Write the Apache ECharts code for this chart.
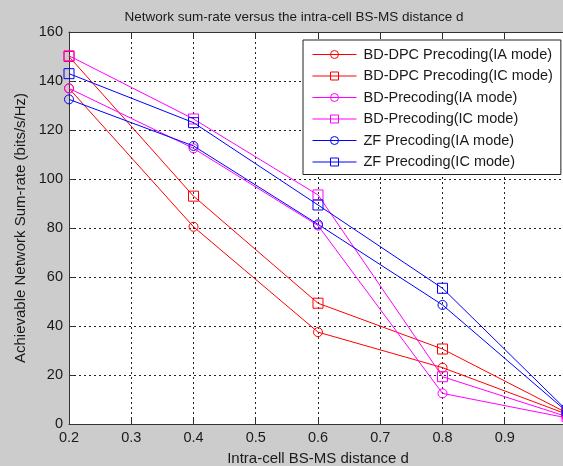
<!DOCTYPE html>
<html>
<head>
<meta charset="utf-8">
<script src="https://cdn.jsdelivr.net/npm/echarts@6/dist/echarts.min.js"></script>
<style>
  html, body { margin: 0; padding: 0; background: #cccccc; }
  #chart { width: 563px; height: 466px; }
</style>
</head>
<body>
<div id="chart"></div>
<script>
// Intra-cell BS-MS distance d
const distances = [0.2, 0.4, 0.6, 0.8, 1.0];

// Achievable network sum-rate (bits/s/Hz) per scheme
const bdDpcIA = [137, 80.5, 37.5, 23, 4];
const bdDpcIC = [150, 93, 49.3, 30.6, 4.5];
const bdIA    = [137, 112.5, 81, 12.5, 2.5];
const bdIC    = [150.3, 124.5, 93.5, 19.3, 3];
const zfIA    = [132.5, 113.5, 81.5, 48.6, 5];
const zfIC    = [143, 123, 89.4, 55.4, 5.5];

const seriesNames = [
  'BD-DPC Precoding(IA mode)',
  'BD-DPC Precoding(IC mode)',
  'BD-Precoding(IA mode)',
  'BD-Precoding(IC mode)',
  'ZF Precoding(IA mode)',
  'ZF Precoding(IC mode)'
];
const seriesValues = [bdDpcIA, bdDpcIC, bdIA, bdIC, zfIA, zfIC];
const seriesColors = ['#ff0000', '#ff0000', '#ff00ff', '#ff00ff', '#0000ff', '#0000ff'];
const seriesSymbols = ['circle', 'rect', 'circle', 'rect', 'circle', 'rect'];

const FONT = 'Liberation Sans, Arial, sans-serif';
const TEXT = '#1a1a1a';

const chart = echarts.init(document.getElementById('chart'), null, { renderer: 'canvas' });

const dotted = { show: true, lineStyle: { color: '#222', width: 1, type: [2, 3] } };

const option = {
  backgroundColor: '#cccccc',
  animation: false,
  title: {
    text: 'Network sum-rate versus the intra-cell BS-MS distance d',
    left: 289, top: 5, textAlign: 'center',
    textStyle: { fontFamily: FONT, fontSize: 13.5, fontWeight: 'normal', color: TEXT }
  },
  // the plot box runs a little past the right edge of the canvas
  grid: {
    left: 69, top: 32, width: 498, height: 392,
    outerBoundsMode: 'none', containLabel: false,
    backgroundColor: '#ffffff', show: true, borderWidth: 0
  },
  legend: {
    orient: 'vertical',
    left: 303, top: 40,
    padding: [7, 8, 5, 9],
    itemWidth: 44, itemHeight: 10, itemGap: 6.5,
    backgroundColor: '#ffffff',
    borderColor: '#222', borderWidth: 1,
    lineStyle: { width: 1 },
    itemStyle: { borderWidth: 1 },
    textStyle: { fontFamily: FONT, fontSize: 14.5, color: TEXT, padding: [0, 0, 0, 2] },
    data: seriesNames
  },
  xAxis: [{
    type: 'value', min: 0.2, max: 1.0, interval: 0.1,
    axisLine: { show: true, onZero: false, lineStyle: { color: '#333', width: 1 } },
    axisTick: { show: true, inside: true, length: 5, lineStyle: { color: '#333' } },
    axisLabel: { margin: 6, fontFamily: FONT, fontSize: 14.5, color: TEXT,
      formatter: v => (Math.abs(v - 1) < 1e-9 ? '1' : v.toFixed(1)) },
    splitLine: dotted,
    name: 'Intra-cell BS-MS distance d', nameLocation: 'middle', nameGap: 27,
    nameTextStyle: { fontFamily: FONT, fontSize: 15, color: TEXT }
  }, {
    type: 'value', min: 0.2, max: 1.0, interval: 0.1, position: 'top',
    axisLine: { show: true, onZero: false, lineStyle: { color: '#333', width: 1 } },
    axisTick: { show: true, inside: true, length: 5, lineStyle: { color: '#333' } },
    axisLabel: { show: false }, splitLine: { show: false }
  }],
  yAxis: [{
    type: 'value', min: 0, max: 160, interval: 20,
    axisLine: { show: true, onZero: false, lineStyle: { color: '#333', width: 1 } },
    axisTick: { show: true, inside: true, length: 5, lineStyle: { color: '#333' } },
    axisLabel: { margin: 6, fontFamily: FONT, fontSize: 14.5, color: TEXT },
    splitLine: dotted,
    name: 'Achievable Network Sum-rate (bits/s/Hz)', nameLocation: 'middle', nameGap: 40,
    nameTextStyle: { fontFamily: FONT, fontSize: 15, color: TEXT }
  }],
  series: seriesNames.map((name, i) => ({
    name: name,
    type: 'line',
    data: distances.map((d, j) => [d, seriesValues[i][j]]),
    symbol: seriesSymbols[i],
    symbolSize: seriesSymbols[i] === 'circle' ? 9 : 10,
    showAllSymbol: true,
    clip: false,
    lineStyle: { color: seriesColors[i], width: 1 },
    itemStyle: { color: 'rgba(0,0,0,0)', borderColor: seriesColors[i], borderWidth: 1 },
    emphasis: { disabled: true }
  }))
};

chart.setOption(option);
</script>
</body>
</html>
